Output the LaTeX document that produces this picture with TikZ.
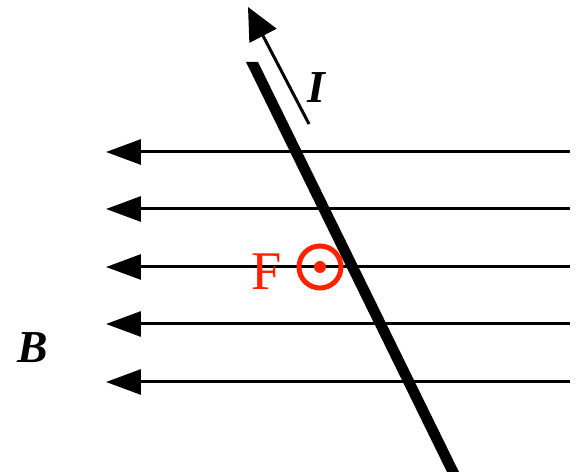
\documentclass[tikz,border=0pt]{standalone}
\usepackage{fontspec}
\setmainfont{Liberation Serif}
\usepackage{xcolor}
\usetikzlibrary{arrows.meta, positioning, calc}
\definecolor{forcered}{RGB}{255,34,0}

\begin{document}
\begin{tikzpicture}[x=0.02cm, y=-0.02cm,
    field/.style={line width=0.06cm, -{Triangle[length=0.7cm, width=0.5cm]}},
    current/.style={line width=0.06cm, -{Triangle[length=0.65cm, width=0.6cm]}},
    lbl/.style={font=\bfseries\itshape\fontsize{26}{28}\selectfont, inner sep=0pt}]
  \useasboundingbox (0,0) rectangle (576,476);
  % field lines B
  \foreach \y [count=\i] in {152,209,267,324,382} {
    \coordinate (r\i) at (570,\y);
    \coordinate (l\i) at (106,\y);
    \draw[field] (r\i) -- (l\i);
  }
  \node[lbl] (B) at (33,348) {B};
  % wire
  \coordinate (wt) at (252,62);
  \coordinate (wb) at (453,472);
  \fill ($(wt)+(-6,0)$) -- ($(wt)+(6,0)$) -- ($(wb)+(6,0)$) -- ($(wb)+(-6,0)$) -- cycle;
  % current
  \coordinate (is) at (309,124);
  \coordinate (ie) at (248,7);
  \draw[current] (is) -- (ie);
  \node[lbl] (I) at (316,88) {I};
  % force out of the page
  \node[circle, draw=forcered, line width=0.1cm, minimum size=0.84cm, inner sep=0pt] (Fc) at (320,267) {};
  \fill[forcered] (Fc.center) circle (6);
  \node[text=forcered, font=\fontsize{31}{33}\selectfont, inner sep=0pt] (F) at (267,272) {F};
\end{tikzpicture}
\end{document}
